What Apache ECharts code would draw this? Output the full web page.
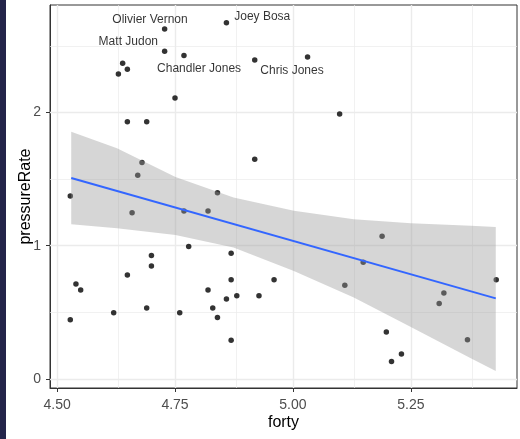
<!DOCTYPE html>
<html>
<head>
<meta charset="utf-8">
<script src="https://cdn.jsdelivr.net/npm/echarts@6/dist/echarts.min.js"></script>
<style>
  html, body { margin: 0; padding: 0; background: #fff; }
  #chart { width: 520px; height: 439px; }
</style>
</head>
<body>
<div id="chart"></div>
<script>
// points
const forty = [4.728, 4.859, 4.728, 4.769, 4.639, 4.649, 4.63, 4.919, 5.031, 4.75,
  4.649, 4.69, 5.099, 4.919, 4.68, 4.671, 4.528, 4.84, 4.659, 4.769,
  4.82, 4.528, 4.54, 4.55, 4.62, 4.649, 4.69, 4.70, 4.70, 4.76,
  4.779, 4.82, 4.83, 4.84, 4.859, 4.869, 4.869, 4.881, 4.869, 4.928,
  4.96, 5.189, 5.149, 5.11, 5.431, 5.32, 5.31, 5.37, 5.198, 5.23, 5.209];
const pressureRate = [2.626, 2.673, 2.46, 2.427, 2.37, 2.325, 2.289, 2.395, 2.417, 2.108,
  1.93, 1.93, 1.988, 1.649, 1.624, 1.529, 1.373, 1.398, 1.248, 1.26,
  1.26, 0.444, 0.713, 0.668, 0.497, 0.781, 0.532, 0.926, 0.848, 0.497,
  0.994, 0.668, 0.532, 0.462, 0.60, 0.944, 0.745, 0.625, 0.291, 0.625,
  0.745, 1.072, 0.876, 0.703, 0.745, 0.645, 0.567, 0.294, 0.352, 0.188, 0.13];

// fitted line and its confidence band
const fitX = [4.53, 5.43];
const fitY = [1.508, 0.605];
const bandX = [4.53, 4.627, 4.751, 4.874, 5.002, 5.129, 5.25, 5.377, 5.43];
const bandHigh = [1.856, 1.731, 1.515, 1.362, 1.262, 1.199, 1.169, 1.149, 1.141];
const bandLow = [1.162, 1.132, 1.081, 0.986, 0.811, 0.611, 0.390, 0.156, 0.059];

// player labels
const labelNames = ['Olivier Vernon', 'Joey Bosa', 'Matt Judon', 'Chandler Jones', 'Chris Jones'];
const labelX = [4.697, 4.935, 4.651, 4.801, 4.998];
const labelY = [2.698, 2.716, 2.532, 2.327, 2.314];

const xTicks = [4.5, 4.75, 5.0, 5.25];
const xMinor = [4.625, 4.875, 5.125, 5.375];
const yTicks = [0, 1, 2];
const yMinor = [0.5, 1.5, 2.5];

const font = '"Liberation Sans", Arial, sans-serif';
const chart = echarts.init(document.getElementById('chart'));

const gridLines = [].concat(
  xTicks.map(v => ({ xAxis: v, lineStyle: { width: 1.4 } })),
  xMinor.map(v => ({ xAxis: v, lineStyle: { width: 0.7 } })),
  yTicks.map(v => ({ yAxis: v, lineStyle: { width: 1.4 } })),
  yMinor.map(v => ({ yAxis: v, lineStyle: { width: 0.7 } }))
);

chart.setOption({
  animation: false,
  textStyle: { fontFamily: font },
  graphic: [{
    type: 'rect', left: 0, top: 0, z: 10,
    shape: { width: 6, height: 439 },
    style: { fill: '#23244a' }
  }],
  grid: {
    left: 50, right: 3, top: 5, bottom: 51,
    show: true, borderColor: '#333333', borderWidth: 1, backgroundColor: '#fff'
  },
  xAxis: {
    type: 'value',
    min: 4.485, max: 5.475,
    name: 'forty', nameLocation: 'middle', nameGap: 27, nameMoveOverlap: false,
    nameTextStyle: { fontSize: 16, color: '#000', fontFamily: font },
    axisLine: { show: true, onZero: false, lineStyle: { color: '#333333' } },
    axisTick: { show: true, customValues: xTicks, length: 4, lineStyle: { color: '#333333' } },
    axisLabel: {
      customValues: xTicks, margin: 10, fontSize: 14, color: '#4d4d4d', fontFamily: font,
      formatter: v => v.toFixed(2)
    },
    splitLine: { show: false }
  },
  yAxis: {
    type: 'value',
    min: -0.068, max: 2.807,
    name: 'pressureRate', nameLocation: 'middle', nameGap: 16, nameMoveOverlap: false,
    nameTextStyle: { fontSize: 16, color: '#000', fontFamily: font },
    axisLine: { show: true, onZero: false, lineStyle: { color: '#333333' } },
    axisTick: { show: true, customValues: yTicks, length: 4, lineStyle: { color: '#333333' } },
    axisLabel: {
      customValues: yTicks, margin: 9, fontSize: 14, color: '#4d4d4d', fontFamily: font,
      formatter: v => String(Math.round(v))
    },
    splitLine: { show: false }
  },
  series: [
    {
      // panel grid
      type: 'line', data: [], z: 1, silent: true,
      markLine: {
        z: 1, silent: true, symbol: ['none', 'none'], label: { show: false },
        lineStyle: { color: '#ebebeb', type: 'solid' },
        data: gridLines
      }
    },
    {
      type: 'scatter', z: 2,
      data: forty.map((x, i) => [x, pressureRate[i]]),
      symbolSize: 5.5,
      itemStyle: { color: '#000' }
    },
    {
      type: 'custom', z: 3, silent: true,
      data: [[bandX[0], bandLow[0]]],
      renderItem: (params, api) => {
        const pts = [];
        bandX.forEach((x, i) => pts.push(api.coord([x, bandHigh[i]])));
        for (let i = bandX.length - 1; i >= 0; i--) pts.push(api.coord([bandX[i], bandLow[i]]));
        return { type: 'polygon', shape: { points: pts }, style: { fill: 'rgba(153,153,153,0.4)' } };
      }
    },
    {
      type: 'line', z: 4, silent: true,
      data: fitX.map((x, i) => [x, fitY[i]]),
      symbol: 'none',
      lineStyle: { color: '#3366FF', width: 2 }
    },
    {
      type: 'scatter', z: 5, silent: true,
      data: labelNames.map((n, i) => ({ name: n, value: [labelX[i], labelY[i]] })),
      symbolSize: 0,
      label: {
        show: true, position: 'inside', formatter: p => p.name,
        fontSize: 12, color: '#000', fontFamily: font
      }
    }
  ]
});
</script>
</body>
</html>
